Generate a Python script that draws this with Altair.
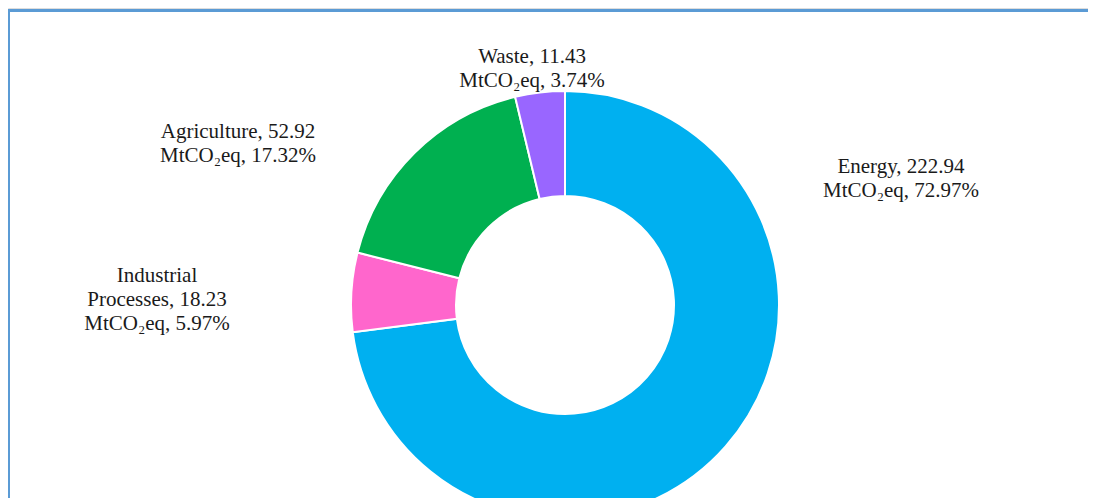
import altair as alt
import pandas as pd

# ---- data ----
categories = ["Energy", "Industrial Processes", "Agriculture", "Waste"]
emissions = [222.94, 18.23, 52.92, 11.43]          # MtCO2eq
shares = [72.97, 5.97, 17.32, 3.74]                # percent
colors = ["#00B0F0", "#FF66CC", "#00B050", "#9966FF"]
label_names = ["Energy", "Industrial\nProcesses", "Agriculture", "Waste"]

df = pd.DataFrame({
    "category": categories,
    "value": emissions,
    "share": shares,
    "order": list(range(len(categories))),
    "label": [f"{n}, {v:.2f}\nMtCO\u2082eq, {s:.2f}%" for n, v, s in zip(label_names, emissions, shares)],
})

W, H = 1080, 490
CX, CY = 557, 297

base = alt.Chart(df)

donut = base.mark_arc(outerRadius=214, innerRadius=109, stroke="white", strokeWidth=2).encode(
    theta=alt.Theta("value:Q", stack=True),
    order=alt.Order("order:Q"),
    color=alt.Color("category:N", scale=alt.Scale(domain=categories, range=colors), legend=None),
    x=alt.value(CX),
    y=alt.value(CY),
)

label_pos = {
    "Energy": (893, 165),
    "Waste": (524, 55),
    "Agriculture": (230, 130),
    "Industrial Processes": (149, 274),
}

labels = []
for cat, (lx, ly) in label_pos.items():
    labels.append(
        base.transform_filter(alt.datum.category == cat)
        .mark_text(font="Liberation Serif", fontSize=21, lineHeight=24, align="center",
                   baseline="alphabetic", lineBreak="\n", color="#1a1a1a")
        .encode(text="label:N", x=alt.value(lx), y=alt.value(ly))
    )

frame_data = alt.Data(values=[{"k": 1}])
top_rule = alt.Chart(frame_data).mark_rule(color="#5b9bd5", strokeWidth=3).encode(
    x=alt.value(0), x2=alt.value(1087), y=alt.value(2.5)
)
left_rule = alt.Chart(frame_data).mark_rule(color="#5b9bd5", strokeWidth=3).encode(
    x=alt.value(0.5), y=alt.value(1), y2=alt.value(H + 10)
)

chart = alt.layer(donut, *labels, top_rule, left_rule).properties(
    width=W, height=H, autosize=alt.AutoSizeParams(type="none"), padding=0
).configure_view(stroke=None).configure(background="white")

chart.save("out.html", embed_options={"renderer": "svg", "actions": False})
